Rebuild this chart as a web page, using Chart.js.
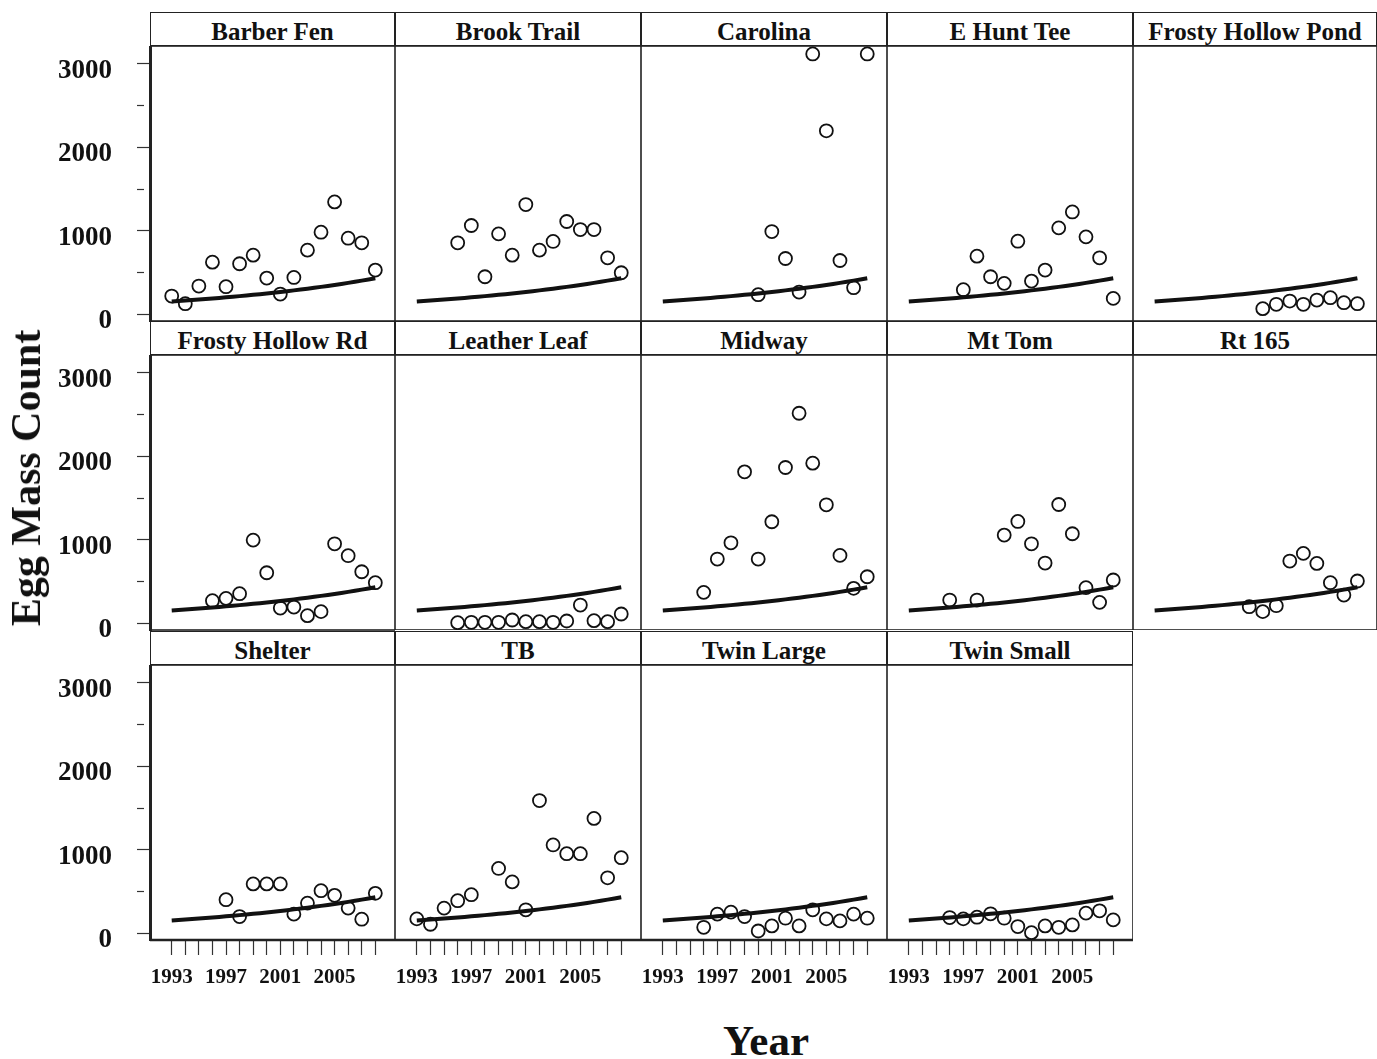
<!DOCTYPE html>
<html>
<head>
<meta charset="utf-8">
<title>Egg Mass Count by site</title>
<script src="https://cdn.jsdelivr.net/npm/chart.js@4.4.1/dist/chart.umd.min.js"></script>
<style>
  html, body { margin: 0; padding: 0; background: #fff; }
  #page {
    position: relative; width: 1377px; height: 1059px; overflow: hidden;
    font-family: "Liberation Serif", "Times New Roman", serif; color: #111;
  }
  .strip {
    position: absolute; box-sizing: border-box; border: 1.5px solid #222;
    background: #fff; text-align: center; font-weight: bold; font-size: 25px;
    line-height: 38px; white-space: nowrap;
  }
  .panel { position: absolute; }
  .title { position: absolute; font-weight: bold; white-space: nowrap; transform: translate(-50%, -50%); }
</style>
</head>
<body>
<div id="page"></div>
<script>
// Egg mass counts, one pair of arrays per site
const barberFenYears = [1993, 1994, 1995, 1996, 1997, 1998, 1999, 2000, 2001, 2002, 2003, 2004, 2005, 2006, 2007, 2008];
const barberFenCounts = [219, 127, 339, 625, 331, 606, 709, 434, 243, 442, 769, 984, 1347, 912, 857, 530];

const brookTrailYears = [1996, 1997, 1998, 1999, 2000, 2001, 2002, 2003, 2004, 2005, 2006, 2007, 2008];
const brookTrailCounts = [857, 1064, 450, 964, 709, 1315, 769, 873, 1112, 1016, 1016, 677, 498];

const carolinaYears = [2000, 2001, 2002, 2003, 2004, 2005, 2006, 2007, 2008];
const carolinaCounts = [235, 992, 669, 267, 3120, 2199, 645, 319, 3120];

const eHuntTeeYears = [1997, 1998, 1999, 2000, 2001, 2002, 2003, 2004, 2005, 2006, 2007, 2008];
const eHuntTeeCounts = [295, 697, 450, 371, 876, 398, 530, 1036, 1227, 928, 677, 191];

const frostyPondYears = [2001, 2002, 2003, 2004, 2005, 2006, 2007, 2008];
const frostyPondCounts = [68, 120, 159, 120, 171, 199, 139, 127];

const frostyRdYears = [1996, 1997, 1998, 1999, 2000, 2001, 2002, 2003, 2004, 2005, 2006, 2007, 2008];
const frostyRdCounts = [271, 299, 355, 997, 606, 183, 195, 92, 140, 953, 810, 618, 487];

const leatherLeafYears = [1996, 1997, 1998, 1999, 2000, 2001, 2002, 2003, 2004, 2005, 2006, 2007, 2008];
const leatherLeafCounts = [8, 12, 12, 12, 40, 20, 20, 12, 28, 219, 32, 20, 112];

const midwayYears = [1996, 1997, 1998, 1999, 2000, 2001, 2002, 2003, 2004, 2005, 2006, 2007, 2008];
const midwayCounts = [371, 770, 965, 1815, 770, 1217, 1867, 2517, 1919, 1420, 814, 419, 558];

const mtTomYears = [1996, 1998, 2000, 2001, 2002, 2003, 2004, 2005, 2006, 2007, 2008];
const mtTomCounts = [279, 279, 1057, 1221, 953, 722, 1424, 1073, 427, 251, 519];

const rt165Years = [2000, 2001, 2002, 2003, 2004, 2005, 2006, 2007, 2008];
const rt165Counts = [199, 140, 211, 746, 838, 718, 487, 339, 507];

const shelterYears = [1997, 1998, 1999, 2000, 2001, 2002, 2003, 2004, 2005, 2006, 2007, 2008];
const shelterCounts = [403, 201, 592, 592, 592, 230, 362, 511, 455, 302, 169, 479];

const tbYears = [1993, 1994, 1995, 1996, 1997, 1999, 2000, 2001, 2002, 2003, 2004, 2005, 2006, 2007, 2008];
const tbCounts = [173, 109, 302, 391, 463, 777, 616, 282, 1591, 1059, 954, 954, 1377, 665, 906];

const twinLargeYears = [1996, 1997, 1998, 1999, 2000, 2001, 2002, 2003, 2004, 2005, 2006, 2007, 2008];
const twinLargeCounts = [72, 230, 254, 201, 28, 89, 181, 89, 282, 173, 149, 230, 181];

const twinSmallYears = [1996, 1997, 1998, 1999, 2000, 2001, 2002, 2003, 2004, 2005, 2006, 2007, 2008];
const twinSmallCounts = [189, 173, 193, 234, 181, 81, 8, 89, 72, 101, 242, 270, 161];

// fitted curve, same in every panel
const fitYears = [1993, 1994, 1995, 1996, 1997, 1998, 1999, 2000, 2001, 2002, 2003, 2004, 2005, 2006, 2007, 2008];
const fitCounts = [155, 166, 178, 190, 204, 218, 234, 250, 268, 287, 307, 329, 352, 377, 404, 433];

const siteNames = ['Barber Fen', 'Brook Trail', 'Carolina', 'E Hunt Tee', 'Frosty Hollow Pond',
    'Frosty Hollow Rd', 'Leather Leaf', 'Midway', 'Mt Tom', 'Rt 165',
    'Shelter', 'TB', 'Twin Large', 'Twin Small'];
const siteYears = [barberFenYears, brookTrailYears, carolinaYears, eHuntTeeYears, frostyPondYears,
    frostyRdYears, leatherLeafYears, midwayYears, mtTomYears, rt165Years,
    shelterYears, tbYears, twinLargeYears, twinSmallYears];
const siteCounts = [barberFenCounts, brookTrailCounts, carolinaCounts, eHuntTeeCounts, frostyPondCounts,
    frostyRdCounts, leatherLeafCounts, midwayCounts, mtTomCounts, rt165Counts,
    shelterCounts, tbCounts, twinLargeCounts, twinSmallCounts];

// tick labels
const tickYears = [1993, 1994, 1995, 1996, 1997, 1998, 1999, 2000, 2001, 2002, 2003, 2004, 2005, 2006, 2007, 2008];
const labelYears = [1993, 1997, 2001, 2005];
const tickCounts = [0, 500, 1000, 1500, 2000, 2500, 3000];
const labelCounts = [0, 1000, 2000, 3000];

// layout
const colX = [150, 395, 641, 887, 1133, 1377];
const rowTop = [12, 321, 631];
const STRIP_H = 34;
const PANEL_H = 275;
const Y_AXIS_W = 150;
const X_AXIS_H = 70;
const LABEL_ROOM = 24;   // room under the left panels for the "0" label
const FONT = '"Liberation Serif", "Times New Roman", serif';

const page = document.getElementById('page');

// panel box
const framePlugin = {
    id: 'frame',
    beforeDatasetsDraw(chart, args, opts) {
        const a = chart.chartArea;
        const g = chart.ctx;
        g.save();
        g.strokeStyle = '#222';
        g.lineWidth = 1.6;
        g.strokeRect(a.left, a.top, a.right - a.left, a.bottom - a.top);
        if (opts.thickLeft) {
            g.lineWidth = 3;
            g.beginPath();
            g.moveTo(a.left + 0.5, a.top);
            g.lineTo(a.left + 0.5, a.bottom + 1);
            g.stroke();
        }
        if (opts.thickBottom) {
            g.lineWidth = 2.4;
            g.beginPath();
            g.moveTo(a.left, a.bottom);
            g.lineTo(a.right, a.bottom);
            g.stroke();
        }
        g.restore();
    }
};

function noPadding(scale) {
    scale.paddingLeft = 0;
    scale.paddingRight = 0;
    scale.paddingTop = 0;
    scale.paddingBottom = 0;
}

siteNames.forEach((name, i) => {
    const c = i % 5;
    const r = Math.floor(i / 5);
    const leftAxis = c === 0;
    const bottomAxis = r === 2;
    const w = colX[c + 1] - colX[c];
    const extraBottom = bottomAxis ? X_AXIS_H : (leftAxis ? LABEL_ROOM : 0);

    const box = document.createElement('div');
    box.className = 'panel';
    const boxW = w + (leftAxis ? Y_AXIS_W : 0);
    const boxH = PANEL_H + extraBottom;
    box.style.left = (colX[c] - (leftAxis ? Y_AXIS_W : 0)) + 'px';
    box.style.top = (rowTop[r] + STRIP_H) + 'px';
    box.style.width = boxW + 'px';
    box.style.height = boxH + 'px';
    const canvas = document.createElement('canvas');
    canvas.width = boxW;
    canvas.height = boxH;
    box.appendChild(canvas);
    page.appendChild(box);

    const strip = document.createElement('div');
    strip.className = 'strip';
    strip.style.left = colX[c] + 'px';
    strip.style.top = rowTop[r] + 'px';
    strip.style.width = w + 'px';
    strip.style.height = STRIP_H + 'px';
    strip.textContent = name;
    page.appendChild(strip);

    const years = siteYears[i];
    const counts = siteCounts[i];

    new Chart(canvas.getContext('2d'), {
        type: 'scatter',
        data: {
            datasets: [
                {
                    type: 'line',
                    data: fitYears.map((x, k) => ({ x: x, y: fitCounts[k] })),
                    borderColor: '#111',
                    borderWidth: 4,
                    pointRadius: 0,
                    tension: 0.4,
                    fill: false,
                    clip: false
                },
                {
                    data: years.map((x, k) => ({ x: x, y: counts[k] })),
                    pointStyle: 'circle',
                    pointRadius: 6.5,
                    borderWidth: 1.8,
                    borderColor: '#111',
                    backgroundColor: 'rgba(255,255,255,0)',
                    clip: false
                }
            ]
        },
        options: {
            responsive: false,
            animation: false,
            events: [],
            layout: { padding: { left: 0, right: 0, top: 0, bottom: bottomAxis ? 0 : extraBottom }, autoPadding: false },
            plugins: {
                legend: { display: false },
                tooltip: { enabled: false },
                frame: { thickLeft: leftAxis, thickBottom: bottomAxis }
            },
            scales: {
                x: {
                    type: 'linear',
                    position: 'bottom',
                    display: bottomAxis,
                    min: 1991.4,
                    max: 2009.45,
                    afterBuildTicks: s => { s.ticks = tickYears.map(v => ({ value: v })); },
                    afterFit: s => { if (bottomAxis) { s.height = X_AXIS_H; noPadding(s); } },
                    border: { display: false },
                    grid: { drawOnChartArea: false, drawTicks: true, tickLength: 15, tickColor: '#333', tickWidth: 1.2 },
                    ticks: {
                        autoSkip: false,
                        maxRotation: 0,
                        minRotation: 0,
                        padding: 10,
                        color: '#111',
                        font: { family: FONT, size: 21, weight: 'bold' },
                        callback: v => labelYears.includes(v) ? String(v) : ''
                    }
                },
                y: {
                    type: 'linear',
                    position: 'left',
                    display: leftAxis,
                    min: -80,
                    max: 3215,
                    afterBuildTicks: s => { s.ticks = tickCounts.map(v => ({ value: v })); },
                    afterFit: s => { if (leftAxis) { s.width = Y_AXIS_W; noPadding(s); } },
                    border: { display: false },
                    grid: {
                        drawOnChartArea: false,
                        drawTicks: true,
                        tickLength: 13,
                        tickColor: '#333',
                        tickWidth: 1.2,
                        tickBorderDash: ctx => (ctx.tick && ctx.tick.value % 1000 !== 0) ? [7, 50] : []
                    },
                    ticks: {
                        padding: 25,
                        labelOffset: 7,
                        color: '#111',
                        font: { family: FONT, size: 27, weight: 'bold' },
                        callback: v => labelCounts.includes(v) ? String(v) : ''
                    }
                }
            }
        },
        plugins: [framePlugin]
    });
});

// axis titles
const yTitle = document.createElement('div');
yTitle.className = 'title';
yTitle.style.left = '26px';
yTitle.style.top = '478px';
yTitle.style.fontSize = '42px';
yTitle.style.transform = 'translate(-50%, -50%) rotate(-90deg)';
yTitle.textContent = 'Egg Mass Count';
page.appendChild(yTitle);

const xTitle = document.createElement('div');
xTitle.className = 'title';
xTitle.style.left = '766px';
xTitle.style.top = '1040px';
xTitle.style.fontSize = '43px';
xTitle.textContent = 'Year';
page.appendChild(xTitle);
</script>
</body>
</html>
